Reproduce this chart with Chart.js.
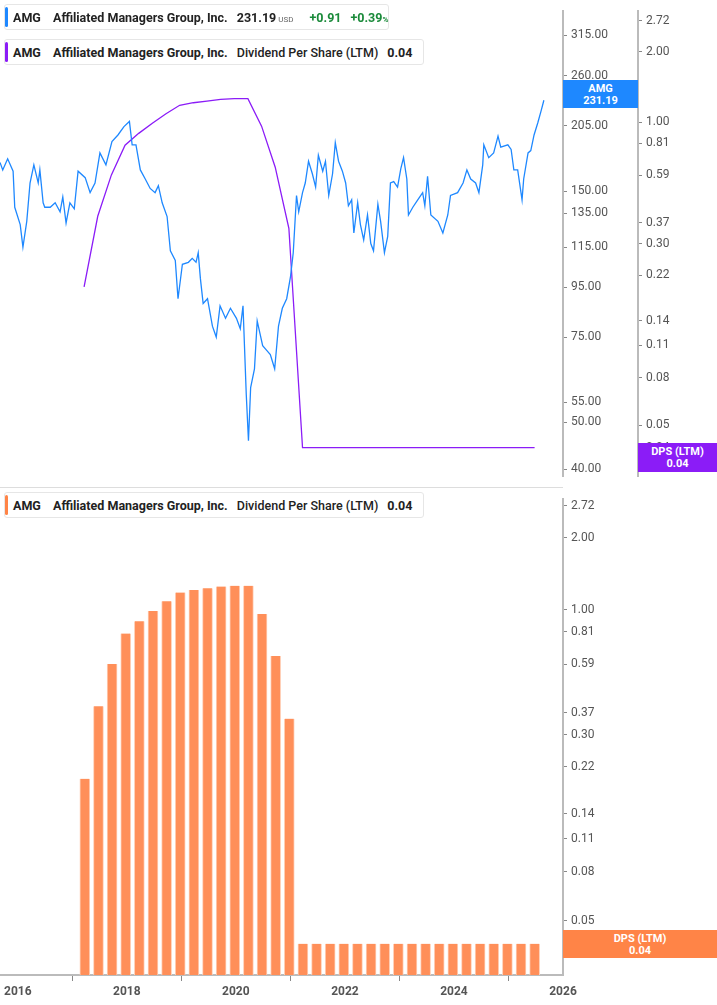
<!DOCTYPE html>
<html><head><meta charset="utf-8">
<script src="https://cdn.jsdelivr.net/npm/chart.js@4"></script>
<style>
body{margin:0;width:717px;height:1005px;position:relative;background:#fff;font-family:Roboto,"Noto Sans",sans-serif;overflow:hidden}
canvas{position:absolute;left:0}
.lg{position:absolute;left:4px;height:26px;background:#fff;border:1px solid #e6e6e6;border-radius:3px;font-size:12.5px;font-weight:bold;color:#222;line-height:26px;padding-left:8px;white-space:nowrap;box-sizing:border-box}
.lg:before{content:"";position:absolute;left:0;top:2px;bottom:2px;width:3px;border-radius:2px;background:var(--c)}
.lg span{margin-right:9px}
.nb{font-weight:500}
.tag{position:absolute;color:#fff;font-size:11px;font-weight:bold;text-align:center;line-height:12px;box-sizing:border-box;padding-top:3px}
</style></head><body>
<canvas id="c1" width="717" height="488" style="top:0"></canvas>
<canvas id="c2" width="717" height="517" style="top:488px"></canvas>
<div class="lg" style="top:4px;width:385px;--c:#1e88ff"><span>AMG</span> <span>Affiliated Managers Group, Inc.</span><span style="margin-right:2px">231.19</span><span style="font-size:8px;color:#666;font-weight:normal">USD</span> <span style="color:#1a8a3a;margin-left:4px">+0.91</span><span style="color:#1a8a3a">+0.39<small style="font-size:8px">%</small></span></div>
<div class="lg" style="top:39px;width:420px;--c:#8b1cf7"><span>AMG</span> <span>Affiliated Managers Group, Inc.</span><span class="nb">Dividend Per Share (LTM)</span><span>0.04</span></div>
<div class="lg" style="top:492px;width:420px;--c:#ff8447"><span>AMG</span> <span>Affiliated Managers Group, Inc.</span><span class="nb">Dividend Per Share (LTM)</span><span>0.04</span></div>
<div class="tag" style="left:563px;top:80px;width:75px;height:28px;background:#1e88ff">AMG<br>231.19</div>
<div class="tag" style="left:638px;top:443px;width:79px;height:29px;background:#8b1cf7">DPS (LTM)<br>0.04</div>
<div class="tag" style="left:563px;top:930px;width:154px;height:28px;background:#ff8447">DPS (LTM)<br>0.04</div>
<div style="position:absolute;left:0;top:487px;width:563px;height:1px;background:#ddd"></div>
<script>
const priceDates=[2015.69,2015.74,2015.83,2015.93,2015.96,2016.06,2016.11,2016.18,2016.24,2016.31,2016.39,2016.42,2016.48,2016.51,2016.61,2016.70,2016.79,2016.84,2016.90,2016.97,2017.05,2017.12,2017.25,2017.34,2017.43,2017.52,2017.63,2017.74,2017.85,2017.96,2018.06,2018.11,2018.18,2018.26,2018.35,2018.44,2018.53,2018.59,2018.66,2018.75,2018.81,2018.90,2018.95,2019.03,2019.14,2019.21,2019.28,2019.32,2019.36,2019.41,2019.49,2019.58,2019.65,2019.72,2019.82,2019.91,2020.02,2020.09,2020.14,2020.20,2020.24,2020.28,2020.35,2020.40,2020.50,2020.57,2020.64,2020.72,2020.79,2020.86,2020.94,2021.01,2021.06,2021.12,2021.16,2021.23,2021.28,2021.34,2021.41,2021.47,2021.52,2021.60,2021.65,2021.71,2021.78,2021.83,2021.89,2021.96,2022.02,2022.07,2022.13,2022.17,2022.24,2022.29,2022.35,2022.42,2022.48,2022.53,2022.61,2022.66,2022.73,2022.79,2022.84,2022.90,2022.97,2023.03,2023.08,2023.14,2023.17,2023.25,2023.34,2023.43,2023.47,2023.52,2023.58,2023.71,2023.80,2023.89,2023.94,2024.07,2024.17,2024.24,2024.31,2024.40,2024.46,2024.53,2024.55,2024.64,2024.73,2024.81,2024.86,2024.99,2025.05,2025.10,2025.17,2025.25,2025.28,2025.36,2025.41,2025.47,2025.54,2025.60,2025.65];
const priceValues=[172,166,175,165,139,128,115,130,156,170,156,166,142,139,139,142,136,146,129,142,138,165,160,149,156,180,170,190,196,204,209,187,187,166,159,152,149,154,142,133,113,108,90,106,107,109,107,112,99,88,90,79,75,87,82,86,82,78,87,57,45.8,59,64.5,81,72,70.5,69,64.5,79,86,90,100,112,147,136,149,156,173,163,153,178,165,173,147,163,189,173,165,156,140,144,123,142,128,119,134,117,113,141,130,112,121,156,157,153,167,176,159,134,139,144,149,140,161,134,130,123,134,147,149,156,166,159,156,149,170,187,176,180,195,185,187,183,166,166,144,159,180,182,196,208,220,231.19];
const dpsDates=[2017.23,2017.48,2017.73,2017.98,2018.23,2018.48,2018.73,2018.98,2019.23,2019.48,2019.73,2019.98,2020.23,2020.48,2020.73,2020.98,2021.23,2021.48,2021.73,2021.98,2022.23,2022.48,2022.73,2022.98,2023.23,2023.48,2023.73,2023.98,2024.23,2024.48,2024.73,2024.98,2025.23,2025.48];
const dpsValues=[0.196,0.394,0.593,0.795,0.894,0.988,1.086,1.18,1.21,1.23,1.25,1.26,1.26,0.96,0.64,0.35,0.04,0.04,0.04,0.04,0.04,0.04,0.04,0.04,0.04,0.04,0.04,0.04,0.04,0.04,0.04,0.04,0.04,0.04];
const priceTicks=[315,260,205,150,135,115,95,75,55,50,40];
const dpsTicks=[2.72,2.00,1.00,0.81,0.59,0.37,0.30,0.22,0.14,0.11,0.08,0.05,0.04];
const yearTicks=[2016,2018,2020,2022,2024,2026];

const XMIN=2015.69,XMAX=2026.0;
const tickFont={family:'Roboto',size:12};
function fixedTicks(arr,w){return{afterBuildTicks:a=>{a.ticks=arr.map(v=>({value:v}))},afterFit:a=>{a.width=w}};}
function rightAxis(arr,w,min,max,extra){
  return Object.assign({type:'logarithmic',position:'right',min,max,
    grid:{drawOnChartArea:false,tickLength:4,color:'#888'},
    border:{display:true,color:'#bbb',width:2},
    ticks:{color:'#555',font:tickFont,padding:4,autoSkip:false,callback:v=>Number(v).toFixed(2)}},fixedTicks(arr,w),extra||{});
}
Chart.defaults.animation=false;
new Chart(document.getElementById('c1'),{
  type:'line',
  data:{datasets:[
    {data:priceDates.map((d,i)=>({x:d,y:priceValues[i]})),yAxisID:'yp',borderColor:'#1e88ff',borderWidth:1.3,pointRadius:0,tension:0},
    {data:dpsDates.map((d,i)=>({x:d,y:dpsValues[i]})),yAxisID:'yd',borderColor:'#8b1cf7',borderWidth:1.3,pointRadius:0,tension:0}
  ]},
  options:{responsive:false,layout:{padding:0},plugins:{legend:{display:false},tooltip:{enabled:false}},
    scales:{
      x:{type:'linear',min:XMIN,max:XMAX,display:false},
      yp:rightAxis(priceTicks,75,38.6,353),
      yd:rightAxis(dpsTicks,79,0.030,2.99)
    }}
});
new Chart(document.getElementById('c2'),{
  type:'bar',
  data:{datasets:[{data:dpsDates.map((d,i)=>({x:d,y:dpsValues[i]})),backgroundColor:'#ff8f59',borderColor:'#ffd0b8',borderWidth:{left:1,right:1},barThickness:10}]},
  options:{responsive:false,layout:{padding:{top:2}},plugins:{legend:{display:false},tooltip:{enabled:false}},
    scales:{
      x:{type:'linear',min:XMIN,max:XMAX,offset:false,
        afterBuildTicks:a=>{a.ticks=yearTicks.map(v=>({value:v}))},afterFit:a=>{a.height=30},
        grid:{drawOnChartArea:false,tickLength:6,color:'#888'},border:{display:true,color:'#bbb',width:2},
        ticks:{color:'#555',font:{family:'Roboto',size:12,weight:'bold'},padding:4,callback:v=>String(v)}},
      y:rightAxis(dpsTicks,154,0.0296,2.90)
    }}
});
</script></body></html>
